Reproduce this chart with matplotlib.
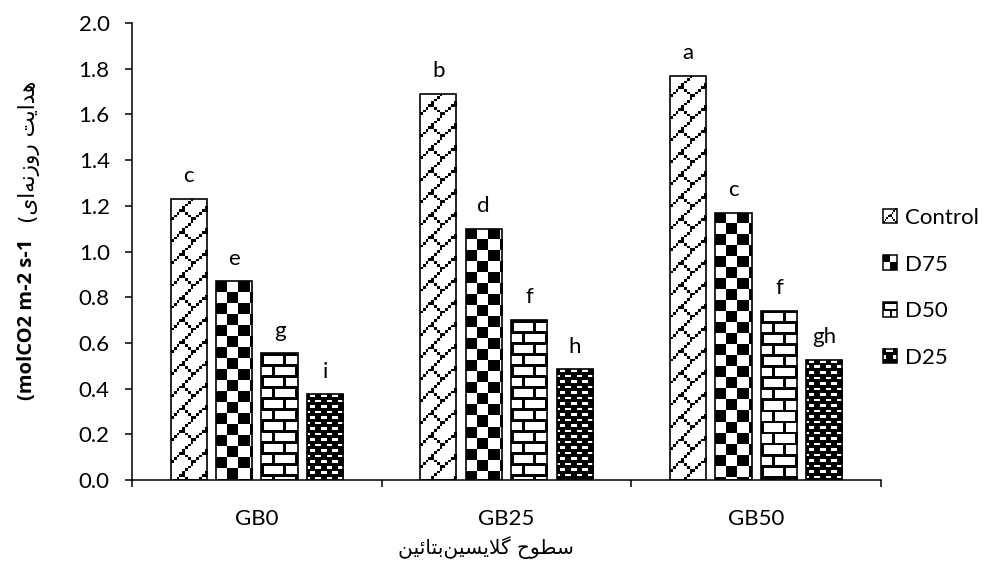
import numpy as np
import matplotlib

matplotlib.use("Agg")  # no display
import matplotlib.pyplot as plt
from matplotlib.legend_handler import HandlerBase
from matplotlib.image import BboxImage
from matplotlib.transforms import Bbox, TransformedBbox
from matplotlib.patches import Rectangle
from matplotlib.colors import Normalize

# data
groups = ["GB0", "GB25", "GB50"]
treatments = ["Control", "D75", "D50", "D25"]
control = [1.23, 1.69, 1.77]
d75 = [0.87, 1.10, 1.17]
d50 = [0.555, 0.70, 0.74]
d25 = [0.375, 0.485, 0.525]
letters_control = ["c", "b", "a"]
letters_d75 = ["e", "d", "c"]
letters_d50 = ["g", "f", "f"]
letters_d25 = ["i", "h", "gh"]
y_ticks = [0.0, 0.2, 0.4, 0.6, 0.8, 1.0, 1.2, 1.4, 1.6, 1.8, 2.0]

y_title_fa = "هدایت روزنه\u200cای"
y_title_unit = "(molCO2 m-2 s-1"
x_title_fa = "سطوح گلایسین\u200cبتائین"

LATIN = "Lato"
FS = 16
PX = 2.75  # screen pixels per pattern cell

# office-style fill patterns, 1 = white, 0 = black
pat_diag_brick = 1 - np.array([
    [0, 0, 0, 0, 0, 0, 0, 1],
    [0, 0, 0, 0, 0, 0, 1, 0],
    [0, 0, 0, 0, 0, 1, 0, 0],
    [0, 0, 0, 0, 1, 0, 0, 0],
    [0, 0, 0, 1, 1, 0, 0, 0],
    [0, 0, 1, 0, 0, 1, 0, 0],
    [0, 1, 0, 0, 0, 0, 1, 0],
    [1, 0, 0, 0, 0, 0, 0, 1],
])
pat_checker = np.kron(np.array([[0, 1], [1, 0]]), np.ones((4, 4)))
pat_brick = np.array([
    [0, 0, 0, 0, 0, 0, 0, 0],
    [0, 1, 1, 1, 1, 1, 1, 1],
    [0, 1, 1, 1, 1, 1, 1, 1],
    [0, 1, 1, 1, 1, 1, 1, 1],
    [0, 0, 0, 0, 0, 0, 0, 0],
    [1, 1, 1, 1, 0, 1, 1, 1],
    [1, 1, 1, 1, 0, 1, 1, 1],
    [1, 1, 1, 1, 0, 1, 1, 1],
])
pat_dots = np.array([
    [0, 1, 1, 0],
    [0, 0, 0, 0],
    [1, 0, 0, 1],
    [0, 0, 0, 0],
])
patterns = {"Control": pat_diag_brick, "D75": pat_checker,
            "D50": pat_brick, "D25": pat_dots}

# persian letters: isolated, final, initial, medial
FORMS = {
    "ا": "\ufe8d\ufe8e",
    "ب": "\ufe8f\ufe90\ufe91\ufe92",
    "ت": "\ufe95\ufe96\ufe97\ufe98",
    "ح": "\ufea1\ufea2\ufea3\ufea4",
    "د": "\ufea9\ufeaa",
    "ر": "\ufead\ufeae",
    "ز": "\ufeaf\ufeb0",
    "س": "\ufeb1\ufeb2\ufeb3\ufeb4",
    "ط": "\ufec1\ufec2\ufec3\ufec4",
    "ل": "\ufedd\ufede\ufedf\ufee0",
    "ن": "\ufee5\ufee6\ufee7\ufee8",
    "ه": "\ufee9\ufeea\ufeeb\ufeec",
    "و": "\ufeed\ufeee",
    "ی": "\ufbfc\ufbfd\ufbfe\ufbff",
    "ئ": "\ufe89\ufe8a\ufe8b\ufe8c",
    "گ": "\ufb92\ufb93\ufb94\ufb95",
}


def shape(text):
    """Join persian letters and put them in visual order (mpl has no shaping)."""
    text = text.replace("\u064a", "\u06cc")
    out = []
    i = 0
    while i < len(text):
        ch = text[i]
        prev = text[i - 1] if i > 0 else ""
        nxt = text[i + 1] if i + 1 < len(text) else ""
        if ch not in FORMS:
            if ch != "\u200c":
                out.append(ch)
            i += 1
            continue
        joins_prev = len(FORMS.get(prev, "")) == 4
        if ch == "ل" and nxt == "ا":
            out.append("\ufefc" if joins_prev else "\ufefb")
            i += 2
            continue
        joins_next = len(FORMS[ch]) == 4 and nxt in FORMS
        out.append(FORMS[ch][int(joins_prev) + 2 * int(joins_next)])
        i += 1
    return "".join(reversed(out))


def fill_pattern(ax, bar, tile):
    """Paint a bitmap pattern inside a bar, clipped to it."""
    (x0, y0), (x1, y1) = ax.transData.transform(
        [(bar.get_x(), bar.get_y()), (bar.get_x() + bar.get_width(), bar.get_y() + bar.get_height())]
    )
    nx = int(np.ceil((x1 - x0) / PX)) + 1
    ny = int(np.ceil((y1 - y0) / PX)) + 1
    th, tw = tile.shape
    img = np.tile(tile, (ny // th + 1, nx // tw + 1))[:ny, :nx]
    inv = ax.transData.inverted()
    (dx0, dy0), (dx1, dy1) = inv.transform([(x0, y1 - ny * PX), (x0 + nx * PX, y1)])
    im = ax.imshow(img, cmap="gray", vmin=0, vmax=1, extent=(dx0, dx1, dy0, dy1),
                   origin="upper", aspect="auto", interpolation="nearest", zorder=2)
    im.set_clip_path(bar)


class PatternHandler(HandlerBase):
    def create_artists(self, legend, orig_handle, xdescent, ydescent, width, height, fontsize, trans):
        bb = TransformedBbox(Bbox.from_bounds(-xdescent, -ydescent, width, height), trans)
        img = BboxImage(bb, cmap="gray", norm=Normalize(0, 1), interpolation="nearest")
        img.set_data(patterns[orig_handle.get_label()])
        rect = Rectangle((-xdescent, -ydescent), width, height, fill=False,
                         edgecolor="black", linewidth=1.1, transform=trans)
        return [img, rect]


fig = plt.figure(figsize=(9.86, 5.70), dpi=100)
ax = fig.add_axes([0.1339, 0.1579, 0.7596, 0.8017])
ax.set_xlim(-0.5, len(groups) - 0.5)
ax.set_ylim(0, 2.0)
ax.autoscale(False)

x = np.arange(len(groups))
width = 0.145
step = 0.182
series = [control, d75, d50, d25]
letters = [letters_control, letters_d75, letters_d50, letters_d25]
handles = []
for k, (name, vals, lets) in enumerate(zip(treatments, series, letters)):
    bars = ax.bar(x + (k - 1.5) * step, vals, width, facecolor="none",
                  edgecolor="black", linewidth=1.2, zorder=3, label=name)
    for b in bars:
        fill_pattern(ax, b, patterns[name])
    for b, lab in zip(bars, lets):
        ax.annotate(lab, (b.get_x() + b.get_width() / 2, b.get_height()),
                    xytext=(0, 12), textcoords="offset points", ha="center",
                    va="baseline", fontsize=FS, family=LATIN)
    handles.append(Rectangle((0, 0), 1, 1, label=name))

ax.set_yticks(y_ticks)
ax.set_yticklabels([f"{v:.1f}" for v in y_ticks], family=LATIN, fontsize=FS)
ax.set_xticks(x)
ax.set_xticklabels(groups, family=LATIN, fontsize=FS)
ax.set_xticks(np.arange(len(groups) + 1) - 0.5, minor=True)
ax.tick_params(axis="x", which="major", length=0, pad=21)
ax.tick_params(axis="x", which="minor", length=5, width=1.1, direction="out")
ax.tick_params(axis="y", length=5, width=1.1, direction="out", pad=11)
for side in ["top", "right"]:
    ax.spines[side].set_visible(False)
for side in ["left", "bottom"]:
    ax.spines[side].set_linewidth(1.1)

fig.legend(handles=handles, labels=treatments, handler_map={Rectangle: PatternHandler()},
           loc="center left", bbox_to_anchor=(0.8955, 0.495), frameon=False,
           prop={"family": LATIN, "size": FS}, handlelength=0.63, handleheight=0.63,
           handletextpad=0.36, labelspacing=1.2, borderpad=0, borderaxespad=0)

# axis titles (mixed bold latin + persian on the y side)
fig.text(0.027, 1 - 319 / 570, y_title_unit, rotation=90, ha="center", va="center",
         fontsize=14.5, fontweight="bold", family="Open Sans")
fig.text(0.029, 1 - 152 / 570, "(" + shape(y_title_fa), rotation=90, ha="center",
         va="center", fontsize=15.5, family=["DejaVu Sans"])
fig.text(486 / 986, 1 - 548 / 570, shape(x_title_fa), ha="center", va="center",
         fontsize=14.5, family=["DejaVu Sans"])

fig.savefig("out.png", dpi=100)
